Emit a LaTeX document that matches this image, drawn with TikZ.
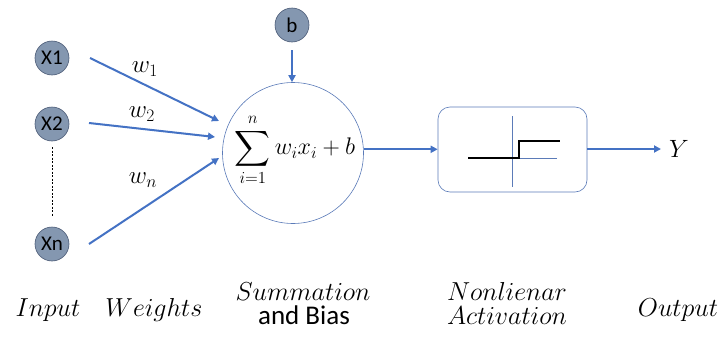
\RequirePackage{fix-cm}
\documentclass[tikz,border=0pt]{standalone}
\usepackage{amsmath}
\usepackage{fontspec}
\setsansfont{Carlito}
\usetikzlibrary{arrows.meta}
\definecolor{inblue}{HTML}{8497B0}
\definecolor{inedge}{HTML}{4A5A75}
\definecolor{arrblue}{HTML}{4472C4}
\definecolor{thinedge}{HTML}{5B7BB8}
\tikzset{
  innode/.style={circle, draw=inedge, line width=0.6pt, fill=inblue, minimum size=34pt, inner sep=0pt, font=\sffamily\fontsize{21}{24}\selectfont},
  conn/.style={draw=arrblue, line width=2pt, -{Triangle[length=7pt,width=7pt]}},
  wlabel/.style={font=\fontsize{25}{28}\selectfont},
  caption/.style={font=\fontsize{26}{30}\selectfont, anchor=base},
}
\begin{document}
\begin{tikzpicture}[x=1pt,y=-1pt]
\useasboundingbox (0,0) rectangle (724,343);
% inputs
\node[innode] (x1) at (52,58) {X1};
\node[innode] (x2) at (52,124) {X2};
\node[innode] (xn) at (52,244) {Xn};
\node[innode] (b) at (292,25) {b};
\coordinate (d1) at (52,147);
\coordinate (d2) at (52,216);
\draw[line width=0.6pt, dash pattern=on 2pt off 1.5pt] (d1) -- (d2);
% summation
\node[circle, draw=thinedge, line width=0.6pt, minimum size=141pt, inner sep=0pt] (sum) at (293,153) {};
\node[font=\fontsize{24}{28}\selectfont] (formula) at (295,150) {$\displaystyle\sum_{i=1}^{n} w_i x_i + b$};
% weight arrows
\coordinate (s1) at (90,58);
\coordinate (e1) at (219,121);
\coordinate (s2) at (89,123);
\coordinate (e2) at (215,137);
\coordinate (sn) at (89,244);
\coordinate (en) at (219,158);
\draw[conn] (s1) -- (e1);
\draw[conn] (s2) -- (e2);
\draw[conn] (sn) -- (en);
\node[wlabel] (w1) at (145,69) {$w_1$};
\node[wlabel] (w2) at (142,114) {$w_2$};
\node[wlabel] (wn) at (143,180) {$w_n$};
% bias arrow
\coordinate (bs) at (292,50);
\draw[conn] (bs) -- (bs |- sum.north);
% activation box
\node[draw=thinedge, line width=0.6pt, rounded corners=12pt, minimum width=149pt, minimum height=85pt] (act) at (512.5,149.5) {};
\draw[conn] (sum.3) -- (sum.3 -| act.west);
\coordinate (va) at (512,116);
\coordinate (vb) at (512,187);
\coordinate (ha) at (512,158);
\coordinate (hb) at (557,158);
\draw[thinedge, line width=0.6pt] (va) -- (vb);
\draw[thinedge, line width=0.6pt] (ha) -- (hb);
\coordinate (st1) at (468,158);
\coordinate (st2) at (519,158);
\coordinate (st3) at (519,141);
\coordinate (st4) at (560,141);
\draw[black, line width=1.3pt] (st1) -- (st2) -- (st3) -- (st4);
% output
\node[font=\fontsize{25}{28}\selectfont] (y) at (679,149) {$Y$};
\coordinate (oe) at (661,149);
\draw[conn] (act.east |- oe) -- (oe);
% captions
\node[caption] (cin) at (48,316) {$Input$};
\node[caption] (cw) at (154,316) {$Weights$};
\node[caption] (cs) at (303,300) {$Summation$};
\node[caption, font=\sffamily\fontsize{27}{30}\selectfont] (cb) at (304,324) {and Bias};
\node[caption] (cnl) at (507,300) {$Nonlienar$};
\node[caption] (cact) at (507,324) {$Activation$};
\node[caption] (cout) at (678,316) {$Output$};
\end{tikzpicture}
\end{document}
